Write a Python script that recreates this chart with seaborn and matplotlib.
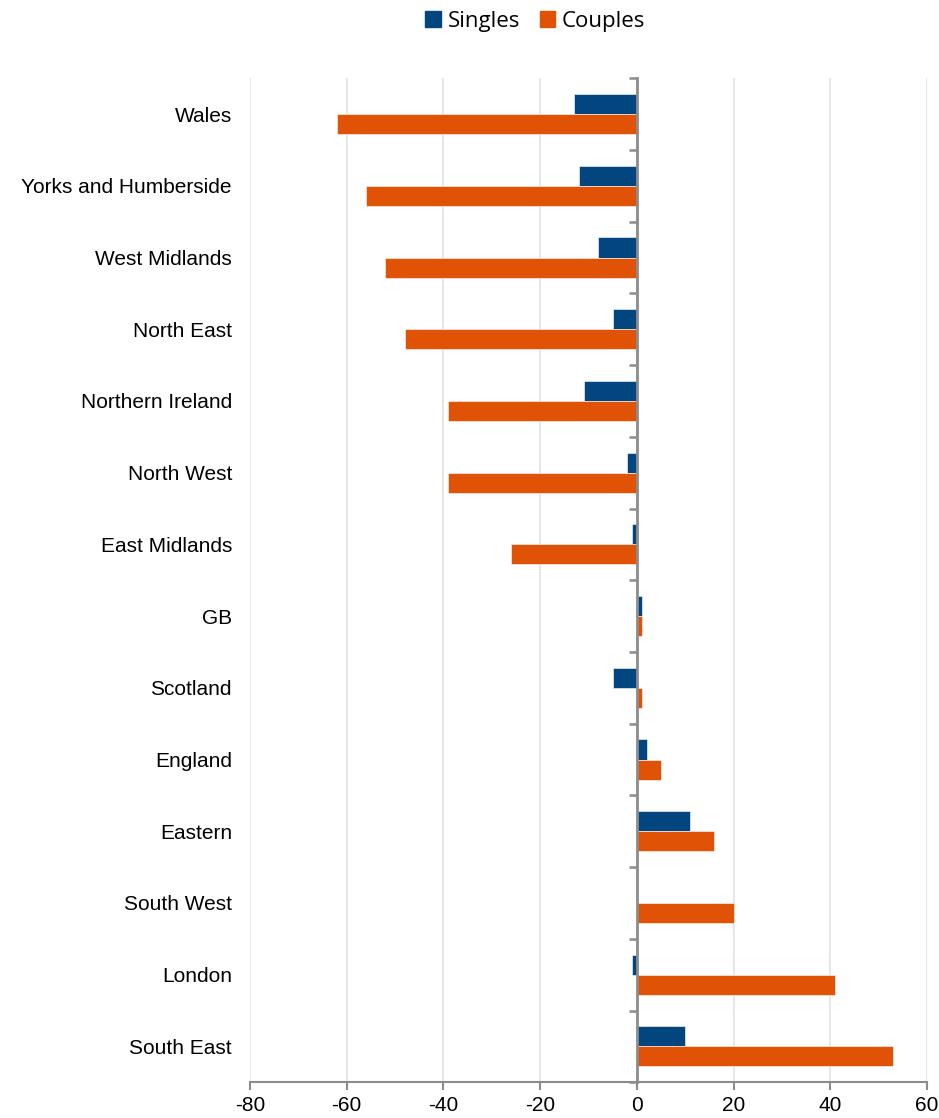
import matplotlib
matplotlib.use("Agg")
import matplotlib.pyplot as plt
import seaborn as sns
import pandas as pd
import numpy as np

regions = ["Wales", "Yorks and Humberside", "West Midlands", "North East",
           "Northern Ireland", "North West", "East Midlands", "GB", "Scotland",
           "England", "Eastern", "South West", "London", "South East"]
singles = [-13, -12, -8, -5, -11, -2, -1, 1, -5, 2, 11, 0, -1, 10]
couples = [-62, -56, -52, -48, -39, -39, -26, 1, 1, 5, 16, 20, 41, 53]
x_ticks = [-80, -60, -40, -20, 0, 20, 40, 60]

df = pd.DataFrame({
    "region": regions * 2,
    "value": singles + couples,
    "group": ["Singles"] * len(regions) + ["Couples"] * len(regions),
})

sns.set_theme(style="white")
plt.rcParams["font.family"] = ["Liberation Sans", "DejaVu Sans"]
plt.rcParams["text.color"] = "black"
plt.rcParams["xtick.color"] = "black"
plt.rcParams["ytick.color"] = "black"

fig = plt.figure(figsize=(9.39, 11.18), dpi=100)
ax = fig.add_axes([0.2662, 0.032, 0.7210, 0.898])

palette = {"Singles": "#03467F", "Couples": "#E05206"}
sns.barplot(data=df, y="region", x="value", hue="group", order=regions,
            hue_order=["Singles", "Couples"], palette=palette, orient="h",
            width=0.56, dodge=True, ax=ax, edgecolor="white", linewidth=0.4,
            saturation=1)

ax.set_xlim(-80, 60)
ax.set_xticks(x_ticks)
ax.set_xticklabels([str(t) for t in x_ticks], fontsize=15)
ax.set_ylim(len(regions) - 0.5, -0.5)
ax.set_xlabel("")
ax.set_ylabel("")
ax.tick_params(axis="y", length=0, labelsize=15, pad=13, labelcolor="black")
ax.tick_params(axis="x", length=6, width=1.5, color="#8c8c8c", direction="out",
               bottom=True, labelsize=15, pad=4, labelcolor="black")
ax.xaxis.grid(True, color="#e3e3e3", linewidth=1.2)
ax.set_axisbelow(True)
for s in ["top", "right", "left"]:
    ax.spines[s].set_visible(False)
ax.spines["bottom"].set_color("#8c8c8c")
ax.spines["bottom"].set_linewidth(1.5)

# zero axis with category boundary ticks
sec = ax.secondary_yaxis(0, transform=ax.transData)
sec.set_yticks(np.arange(len(regions) + 1) - 0.5)
sec.set_yticklabels([])
sec.tick_params(axis="y", length=6, width=1.8, color="#8c8c8c", direction="out")
sec.spines["left"].set_color("#8c8c8c")
sec.spines["left"].set_linewidth(2.0)
sec.set_zorder(5)

leg = ax.get_legend()
if leg is not None:
    leg.remove()
handles = [plt.Rectangle((0, 0), 1, 1, color=palette[k]) for k in ["Singles", "Couples"]]
fig.legend(handles, ["Singles", "Couples"], loc="center", bbox_to_anchor=(0.570, 0.981),
           ncol=2, frameon=False, prop={"family": "Open Sans", "size": 16},
           handlelength=0.7, handleheight=0.7, handletextpad=0.3, columnspacing=0.9,
           labelcolor="black")

fig.savefig("out.png", dpi=100)
